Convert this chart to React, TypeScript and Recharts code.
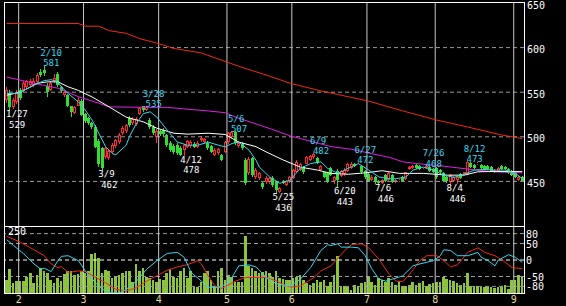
import React from 'react';
import { ComposedChart, Bar, Line, XAxis, YAxis, ReferenceLine, ReferenceDot } from 'recharts';

// ---- daily candles (index 0 = first trading day shown) ----
const opens = [
  541,549,533,539,553,552,556,558,558,561, 573,575,557,553,562,570,556,547,547,534,
  527,535,540,526,521,515,511,495,487,477, 476,483,490,494,504,506,521,515,514,526,
  534,530,519,511,500,506,508,502,493,490, 491,488,485,489,490,492,489,496,494,493,
  490,480,482,480,483,494,500,505,490,492, 474,459,476,455,454,448,449,449,454,449,
  438,451,446,449,454,460,463,466,470,474, 477,476,463,460,459,465,450,462,456,458,
  462,465,470,470,467,462,458,452,455,451, 448,457,452,457,449,450,455,453,464,465,
  468,467,465,465,466,464,465,463,459,455, 449,451,452,458,458,458,471,468,469,468,
  467,467,466,460,462,467,466,464,462,460, 452,455,
];
const highs = [
  556,552,544,552,555,562,564,565,566,571, 576,581,560,562,570,573,557,551,548,535,
  534,545,542,527,522,517,513,497,489,489, 486,493,498,504,512,514,523,522,522,533,
  534,535,521,513,509,508,510,503,495,492, 493,490,492,496,496,494,495,501,499,495,
  491,487,488,481,495,505,507,506,495,494, 476,477,477,465,461,449,456,455,456,450,
  444,452,452,456,464,474,471,467,478,480, 482,477,468,461,460,466,456,464,463,465,
  471,472,471,472,468,463,459,457,456,452, 453,458,460,458,453,453,456,461,467,468,
  469,468,466,468,467,465,466,464,460,456, 458,456,456,459,461,473,472,469,472,469,
  468,468,467,464,466,468,467,465,463,461, 456,456,
];
const lows = [
  538,529,531,537,541,550,554,556,556,559, 567,568,545,551,560,556,549,545,533,522,
  526,534,523,516,513,509,487,466,462,475, 474,481,488,492,502,504,511,513,512,524,
  528,529,509,502,493,501,500,489,483,481, 480,479,478,487,488,487,487,494,492,485,
  482,479,480,473,482,492,498,491,487,485, 446,457,455,453,452,442,447,447,444,436,
  437,447,445,448,453,459,462,458,469,473, 475,470,462,454,448,456,447,443,455,456,
  461,464,466,469,458,453,449,450,447,446, 447,449,451,448,448,449,450,452,463,464,
  464,463,464,464,461,459,453,459,450,448, 446,449,447,453,457,457,465,464,468,464,
  463,463,461,459,461,463,463,458,456,454, 451,450,
];
const closes = [
  553,533,541,550,543,560,562,562,563,569, 569,571,550,560,566,558,551,550,535,528,
  533,541,524,518,515,511,489,470,465,487, 484,491,496,502,510,513,513,520,520,532,
  530,533,511,504,507,503,503,491,485,483, 482,480,491,495,494,489,493,499,497,487,
  483,485,486,474,494,504,505,493,493,487, 448,475,457,463,459,444,454,454,446,440,
  443,448,451,455,463,472,469,460,477,479, 481,471,467,455,449,457,455,452,462,463,
  470,470,467,471,460,455,451,455,449,448, 452,450,459,449,452,452,451,460,466,467,
  465,464,466,467,462,460,455,460,451,450, 457,455,455,454,460,472,466,465,471,465,
  464,464,462,463,465,464,464,459,457,455, 455,451,
];
const volumes = [
  52,100,40,48,48,48,64,80,40,72, 104,88,80,52,40,60,48,76,88,92,
  72,76,92,80,88,160,164,144,80,96, 92,60,64,72,80,88,88,44,120,88,
  104,64,60,52,44,56,52,80,100,64, 60,88,104,60,88,24,24,44,80,92,
  52,28,88,104,52,72,64,44,44,44, 232,112,104,92,80,84,88,80,64,88,
  60,56,52,52,60,64,72,52,40,32, 40,52,44,52,28,44,72,152,28,28,
  24,12,32,28,40,44,64,44,32,60, 52,44,60,44,32,44,28,28,32,44,
  32,40,48,28,36,40,44,44,64,56, 52,48,40,32,40,80,28,28,28,24,
  24,28,24,20,24,28,32,16,52,52, 72,64,
];

// ---- moving averages: [day index, price] ----
const redMA: [number, number][] = [
  [0,627],[21,627],[23,624],[27,624],[30,619],[35,616],[39,610],[44,605],[49,599],[57,594],
  [68,579],[77,568],[83,560],[92,551.5],[97,547.4],[106,540],[116,529],[126,518.7],[135,511],[145,502],[151,498],
];
const magentaMA: [number, number][] = [
  [0,567],[8,560],[15,554.5],[21,545],[27,537.6],[30,533.5],[42,533],[47,533],[54,530.6],[59,529],
  [64,527],[67,522],[71,517],[78,508],[83,501],[91,493],[95,489],[101,486],[107,481],[112,477],
  [116,472],[120,470],[127,467.5],[136,463.4],[143,460.8],[151,459.6],
];
const whiteMA: [number, number][] = [
  [0,546.6],[4,550],[9,560],[12,561.6],[15,561.6],[18,556],[21,552],[25,544.7],[30,533.5],[35,522],
  [40,516.8],[44,509.6],[49,504],[53,503],[59,504],[64,502.6],[68,494],[73,489],[76,483],[81,474],
  [86,466],[91,462.7],[95,459],[100,458],[105,459.6],[110,462],[115,459],[122,459],[129,457],[134,457],
  [138,460.8],[141,461],[151,461],
];
const cyanMA: [number, number][] = [
  [0,548.6],[3,548.6],[5,552],[8,558],[11,563],[13,564],[15,561.6],[16,556],[18,548.6],[21,539],
  [23,530],[25,518.7],[27,503.7],[29,488.8],[31,481],[32,480],[35,490.6],[36,500.7],[38,515],[40,526],
  [42,528],[44,522],[47,507.5],[50,494],[53,490.6],[56,490.6],[59,494],[62,490.6],[64,488.8],[66,492.5],
  [68,494],[71,485],[73,473.8],[74,466],[77,455],[80,447.8],[83,451.5],[86,464.6],[89,470],[92,472],
  [94,464.6],[97,459],[100,464.6],[103,470],[106,462.7],[109,455],[112,453],[114,453],[117,455],[119,462.7],
  [122,466],[125,462.7],[128,457],[131,454.5],[134,458],[137,462.7],[140,463.4],[143,462.7],[146,462.7],[149,459],[151,453],
];

// ---- oscillators (lower panel) ----
const oscCyan: [number, number][] = [
  [0,61.5],[2,44],[5,18.5],[8,-12],[10,-28],[11,-25],[13,-35],[15,-2],[16,11],[18,13],
  [21,-2],[23,-33],[26,-69],[28,-89],[31,-100],[33,-100],[35,-89],[38,-64],[41,-28],[44,-2],
  [47,20],[50,23],[52,8],[54,-38],[57,-64],[59,-82],[62,-84],[65,-69],[68,-17.5],[71,-15],
  [73,-21],[76,-53],[79,-72],[83,-79],[86,-58],[89,-23],[92,28.6],[94,46],[95,44],[97,49],
  [98,39],[101,39],[103,37],[105,13],[107,-28],[109,-58],[111,-64],[113,-58],[116,-48],[119,-17.5],
  [121,-12],[123,-7],[125,-2],[127,13],[128,31],[130,28.6],[132,13],[135,13],[138,23],[139,8],
  [141,-2],[143,-17.5],[144,0],[147,16],[149,8],[151,-7],
];
const oscRed: [number, number][] = [
  [0,72],[4,54],[8,31],[11,13],[13,-12],[15,-23],[16,-20],[18,-38],[21,-33],[23,-35],
  [26,-53],[29,-69],[32,-89],[35,-94],[38,-84],[41,-64],[44,-48],[47,-31],[50,-21],[53,-14],
  [56,-2],[57,-12],[59,-48],[61,-79],[63,-86],[67,-64],[70,-53],[76,-53],[79,-64],[80,-69],
  [83,-82],[86,-79],[90,-53],[92,-33],[95,-17.5],[99,28.6],[101,47],[104,49],[106,37],[109,3],
  [112,-43],[114,-64],[116,-66],[118,-43],[121,-2],[123,13],[126,13],[128,-2],[130,-21],[132,-15],
  [135,23],[138,37],[140,23],[143,13],[146,-7],[148,-23],[151,-26],
];

// ---- axes / annotations ----
const monthStarts = [4, 23, 45, 65, 84, 106, 126, 149];
const monthLabels = ['2', '3', '4', '5', '6', '7', '8', '9'];
const priceTicks = [450, 500, 550, 600, 650];
const priceGrid = [450, 500, 550, 600];
const oscTicks = [80, 50, 0, -50, -80];
const oscGrid = [80, 50, -50, -80];
const volLabel = '250';
const highMarks: [number, string, number][] = [
  [11,'2/10',581],[41,'3/28',535],[66,'5/6',507],[90,'6/9',482],[103,'6/27',472],[123,'7/26',468],[135,'8/12',473],
];
const lowMarks: [number, string, number][] = [
  [1,'1/27',529],[28,'3/9',462],[52,'4/12',478],[79,'5/25',436],[97,'6/20',443],[109,'7/6',446],[130,'8/4',446],
];

const FONT = '"DejaVu Sans Mono", monospace';
const UP = '#ff2a2a';
const DOWN = '#33dd33';
const CYAN = '#33d8ee';

const rows: any[] = opens.map((o, i) => ({
  i, open: o, high: highs[i], low: lows[i], close: closes[i], vol: volumes[i],
  maR: null, maM: null, maW: null, maC: null, oC: null, oR: null,
}));
const put = (arr: [number, number][], key: string) => arr.forEach(([i, v]) => { rows[i][key] = v; });
put(redMA, 'maR'); put(magentaMA, 'maM'); put(whiteMA, 'maW'); put(cyanMA, 'maC');
put(oscCyan, 'oC'); put(oscRed, 'oR');

const Candle = (props: any) => {
  const { x, y, width, height, payload } = props;
  const { open, close, high, low } = payload;
  const cx = Math.floor(x + width / 2);
  const k = high === low ? 0 : height / (high - low);
  const yOf = (v: number) => y + (high - v) * k;
  const up = close >= open;
  const color = up ? UP : DOWN;
  const yt = Math.round(yOf(Math.max(open, close)));
  let yb = Math.round(yOf(Math.min(open, close)));
  if (yb - yt < 1) yb = yt + 1;
  const yh = Math.round(y);
  const yl = Math.round(y + height);
  return (
    <g shapeRendering="crispEdges">
      <line x1={cx + 0.5} x2={cx + 0.5} y1={yh} y2={yt} stroke={color} />
      <line x1={cx + 0.5} x2={cx + 0.5} y1={yb} y2={yl} stroke={color} />
      {up ? (
        <rect x={cx - 0.5} y={yt + 0.5} width={2} height={Math.max(yb - yt - 1, 0)} fill="#000" stroke={color} />
      ) : (
        <rect x={cx - 1} y={yt} width={3} height={yb - yt} fill={color} />
      )}
    </g>
  );
};

const VolBar = (props: any) => {
  const { x, y, width, height } = props;
  const x0 = Math.round(x);
  const w = Math.max(2, Math.round(x + width) - x0);
  return <rect x={x0} y={Math.round(y)} width={w} height={Math.round(y + height) - Math.round(y)} fill="#8cc43c" shapeRendering="crispEdges" />;
};

const LBL = 9;
const highLabel = (date: string, val: number) => (p: any) => (
  <g fontFamily={FONT} fontSize={LBL} fill={CYAN}>
    <text x={p.cx - 4} y={p.cy - 12} textAnchor="start" dominantBaseline="central">{date}</text>
    <text x={p.cx + 7} y={p.cy - 1.5} textAnchor="middle" dominantBaseline="central">{val}</text>
  </g>
);
const lowLabel = (date: string, val: number) => (p: any) => (
  <g fontFamily={FONT} fontSize={LBL} fill="#ffffff">
    <text x={p.cx - 4} y={p.cy + 3.5} textAnchor="start" dominantBaseline="central">{date}</text>
    <text x={p.cx + 7} y={p.cy + 14} textAnchor="middle" dominantBaseline="central">{val}</text>
  </g>
);

const MonthTick = (p: any) => {
  const idx = monthStarts.indexOf(p.payload.value);
  return (
    <text x={p.x - 1.7} y={p.y + 6} textAnchor="middle" dominantBaseline="central" fontFamily={FONT} fontSize={10} fill="#e6dc8c">
      {idx >= 0 ? monthLabels[idx] : ''}
    </text>
  );
};

const makeYTick = (dy: number) => (p: any) => (
  <text x={p.x} y={p.y + dy} textAnchor="start" dominantBaseline="central" fontFamily={FONT} fontSize={10} fill="#ffffff">
    {p.payload.value}
  </text>
);
const PriceTick = makeYTick(2);
const OscTick = makeYTick(0.5);

export default function App() {
  return (
    <div style={{ position: 'absolute', left: 0, top: 0, width: 566, height: 306, background: '#000', overflow: 'hidden' }}>
      <div style={{ position: 'absolute', left: 0, top: 0 }}>
        <ComposedChart width={566} height={226} data={rows} margin={{ top: 3, right: 0, bottom: 0, left: 5 }}>
          <XAxis dataKey="i" type="category" hide />
          <YAxis orientation="right" width={42} domain={[400, 650]} allowDataOverflow ticks={priceTicks} interval={0}
            tickLine={false} axisLine={false} tickSize={0} tickMargin={3} tick={PriceTick} />
          {priceGrid.map((v) => (
            <ReferenceLine key={'g' + v} y={v} stroke="#9a9a9a" strokeDasharray="4 3" />
          ))}
          {monthStarts.map((m) => (
            <ReferenceLine key={'m' + m} x={m} position="start" stroke="#c8c8c8" />
          ))}
          <Line dataKey="maR" stroke="#f02a10" dot={false} connectNulls isAnimationActive={false} strokeWidth={1} />
          <Line dataKey="maM" stroke="#e020e0" dot={false} connectNulls isAnimationActive={false} strokeWidth={1} />
          <Line dataKey="maW" stroke="#ffffff" dot={false} connectNulls isAnimationActive={false} strokeWidth={1} />
          <Line dataKey="maC" stroke={CYAN} dot={false} connectNulls isAnimationActive={false} strokeWidth={1} />
          <Bar dataKey={(d: any) => [d.low, d.high]} barSize={3} shape={Candle} isAnimationActive={false} />
          {highMarks.map(([i, d, v]) => (
            <ReferenceDot key={'h' + i} x={i} y={v} r={0} ifOverflow="visible" shape={highLabel(d, v)} />
          ))}
          {lowMarks.map(([i, d, v]) => (
            <ReferenceDot key={'l' + i} x={i} y={v} r={0} ifOverflow="visible" shape={lowLabel(d, v)} />
          ))}
        </ComposedChart>
      </div>
      <div style={{ position: 'absolute', left: 0, top: 227 }}>
        <ComposedChart width={566} height={79} data={rows} margin={{ top: 0, right: 0, bottom: 0, left: 5 }}>
          <XAxis dataKey="i" type="category" ticks={monthStarts} interval={0} tickLine={false} axisLine={false}
            tickSize={0} tickMargin={0} height={13} tick={MonthTick} />
          <YAxis yAxisId="osc" orientation="right" width={42} domain={[-100, 100]} allowDataOverflow ticks={oscTicks}
            interval={0} tickLine={false} axisLine={false} tickSize={0} tickMargin={2} tick={OscTick} />
          <YAxis yAxisId="vol" hide domain={[0, 270]} allowDataOverflow />
          {oscGrid.map((v) => (
            <ReferenceLine key={'og' + v} yAxisId="osc" y={v} stroke="#9a9a9a" strokeDasharray="4 3" />
          ))}
          <ReferenceLine yAxisId="osc" y={0} stroke="#ffffff" strokeDasharray="4 3" />
          {monthStarts.map((m) => (
            <ReferenceLine key={'lm' + m} yAxisId="osc" x={m} position="start" stroke="#c8c8c8" />
          ))}
          <Bar yAxisId="vol" dataKey="vol" barSize={2.6} shape={VolBar} isAnimationActive={false} />
          <Line yAxisId="osc" dataKey="oR" stroke="#f02a10" dot={false} connectNulls isAnimationActive={false} strokeWidth={1} />
          <Line yAxisId="osc" dataKey="oC" stroke={CYAN} dot={false} connectNulls isAnimationActive={false} strokeWidth={1} />
        </ComposedChart>
      </div>
      <div style={{ position: 'absolute', left: 8, top: 226, fontFamily: FONT, fontSize: 10, lineHeight: '11px', color: '#fff' }}>{volLabel}</div>
      <div style={{ position: 'absolute', left: 4, top: 2, width: 521, height: 292, boxSizing: 'border-box', border: '1px solid #fff', pointerEvents: 'none' }} />
      <div style={{ position: 'absolute', left: 4, top: 226, width: 521, height: 1, background: '#fff', pointerEvents: 'none' }} />
    </div>
  );
}
